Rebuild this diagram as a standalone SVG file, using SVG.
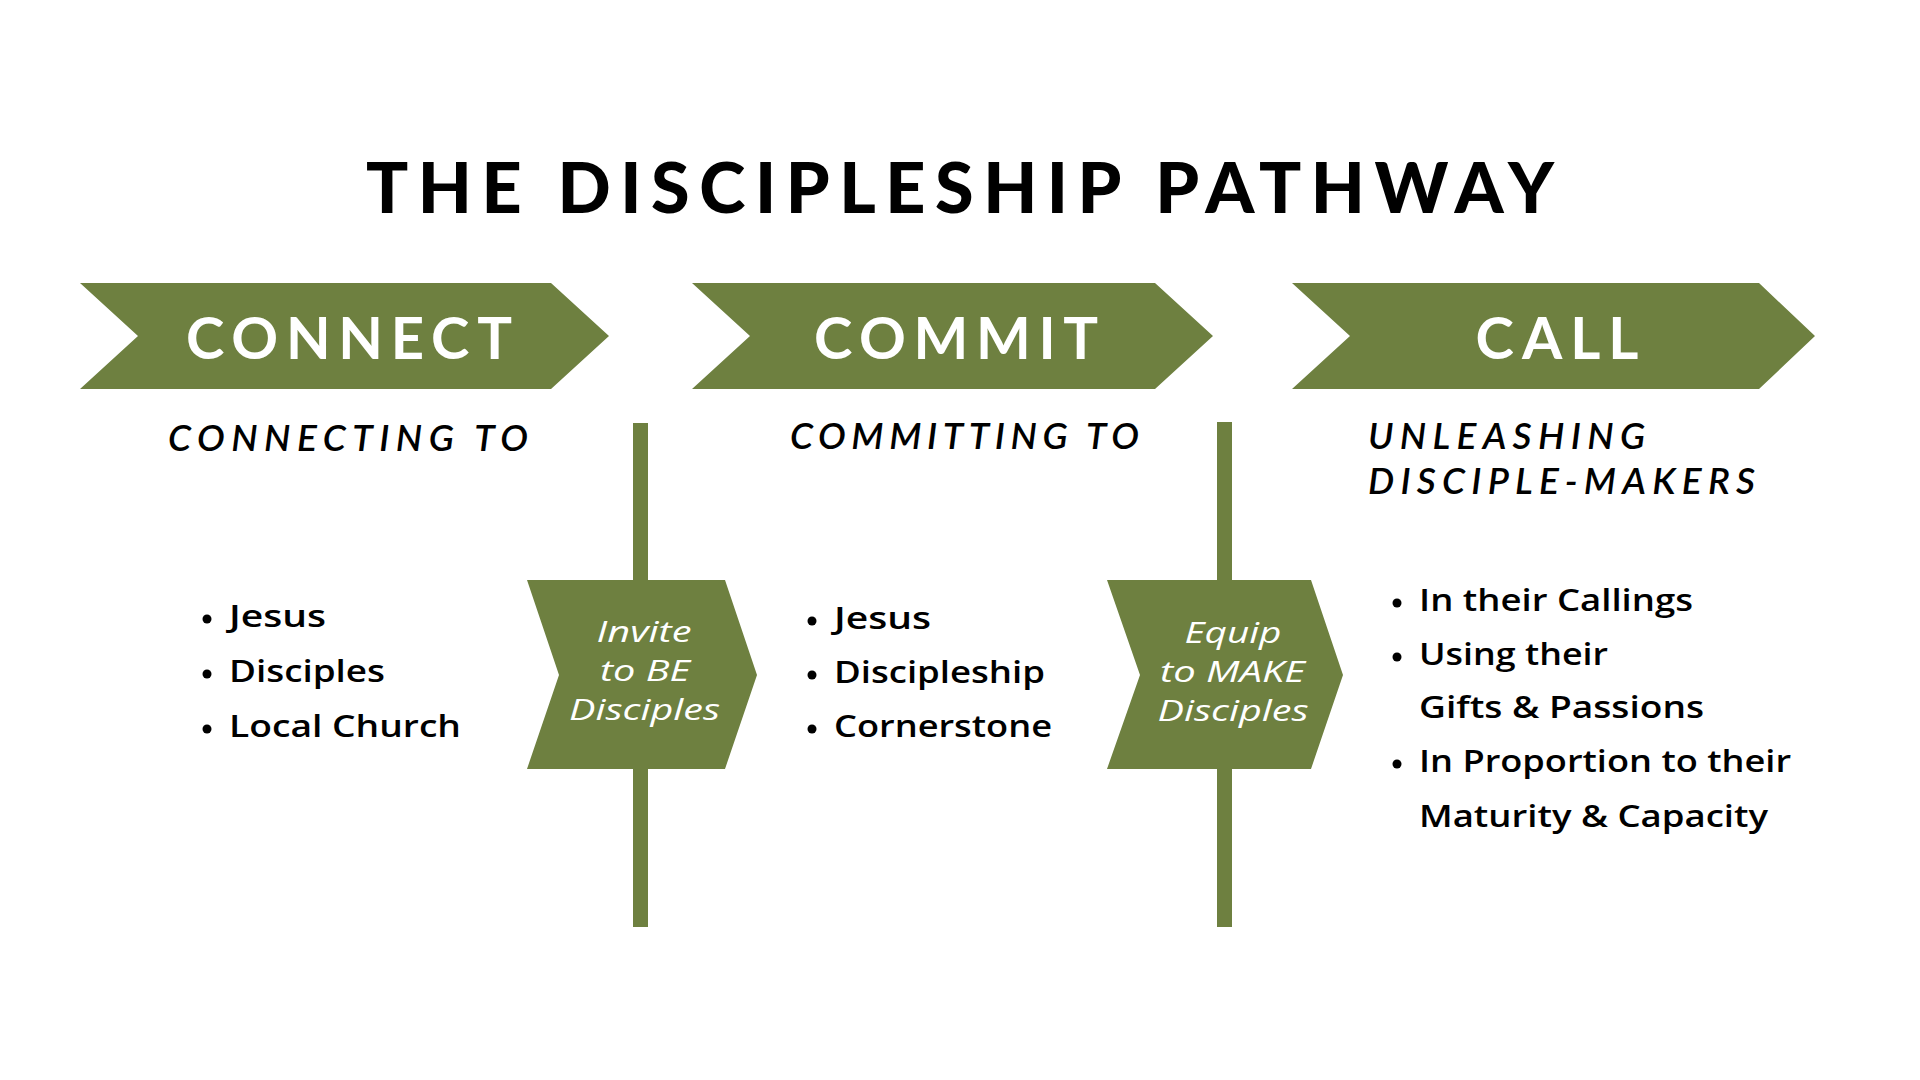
<svg xmlns="http://www.w3.org/2000/svg" width="1920" height="1080" viewBox="0 0 1920 1080">
<style>
.bg{fill:#ffffff}
.g{fill:#6e8040}
.ln{fill:#6e8040}
.title{font-family:Lato,"Liberation Sans",sans-serif;font-weight:900;font-size:70px;fill:#000}
.head{font-family:Lato,"Liberation Sans",sans-serif;font-weight:700;font-size:58px;fill:#fff}
.sub{font-family:Lato,"Liberation Sans",sans-serif;font-weight:600;font-style:italic;font-size:37px;fill:#000}
.inner{font-family:"Open Sans","Liberation Sans",sans-serif;font-weight:400;font-style:italic;font-size:29px;fill:#fff}
.li{font-family:"Open Sans","Liberation Sans",sans-serif;font-weight:600;font-size:31px;fill:#000}
.dot{fill:#000}
</style>
<rect class="bg" x="0" y="0" width="1920" height="1080"/>
<text class="title" x="366" y="213" textLength="1188" lengthAdjust="spacing">THE DISCIPLESHIP PATHWAY</text>

<g id="connectors">
  <rect class="ln" x="633" y="423" width="15" height="504"/>
  <rect class="ln" x="1217" y="422" width="15" height="505"/>
</g>

<g id="connect">
  <polygon class="g" points="80,283 551,283 609,336 551,389 80,389 138,336"/>
  <text class="head" x="349" y="359" text-anchor="middle" textLength="326" lengthAdjust="spacing">CONNECT</text>
</g>
<g id="commit">
  <polygon class="g" points="692,283 1155,283 1213,336 1155,389 692,389 750,336"/>
  <text class="head" x="956" y="359" text-anchor="middle" textLength="284" lengthAdjust="spacing">COMMIT</text>
</g>
<g id="call">
  <polygon class="g" points="1292,283 1759,283 1815,336 1759,389 1292,389 1350,336"/>
  <text class="head" x="1557" y="359" text-anchor="middle" textLength="163" lengthAdjust="spacing">CALL</text>
</g>

<g id="connecting-to">
  <text class="sub" x="168" y="451" textLength="360" lengthAdjust="spacing">CONNECTING TO</text>
  <circle class="dot" cx="207" cy="619" r="4.5"/>
  <circle class="dot" cx="207" cy="674" r="4.5"/>
  <circle class="dot" cx="207" cy="729" r="4.5"/>
  <text class="li" x="229" y="627" textLength="97" lengthAdjust="spacingAndGlyphs">Jesus</text>
  <text class="li" x="229" y="682" textLength="156" lengthAdjust="spacingAndGlyphs">Disciples</text>
  <text class="li" x="229" y="737" textLength="232" lengthAdjust="spacingAndGlyphs">Local Church</text>
</g>

<g id="invite">
  <polygon class="g" points="527,580 725,580 757,675 725,769 527,769 559,675"/>
  <text class="inner" x="644" y="642" text-anchor="middle" textLength="95" lengthAdjust="spacingAndGlyphs">Invite</text>
  <text class="inner" x="645" y="681" text-anchor="middle" textLength="90" lengthAdjust="spacingAndGlyphs">to BE</text>
  <text class="inner" x="644.5" y="720" text-anchor="middle" textLength="151" lengthAdjust="spacingAndGlyphs">Disciples</text>
</g>

<g id="committing-to">
  <text class="sub" x="790" y="449" textLength="349" lengthAdjust="spacing">COMMITTING TO</text>
  <circle class="dot" cx="812" cy="621" r="4.5"/>
  <circle class="dot" cx="812" cy="675" r="4.5"/>
  <circle class="dot" cx="812" cy="729" r="4.5"/>
  <text class="li" x="834" y="629" textLength="97" lengthAdjust="spacingAndGlyphs">Jesus</text>
  <text class="li" x="834" y="683" textLength="211" lengthAdjust="spacingAndGlyphs">Discipleship</text>
  <text class="li" x="834" y="737" textLength="218" lengthAdjust="spacingAndGlyphs">Cornerstone</text>
</g>

<g id="equip">
  <polygon class="g" points="1107,580 1311,580 1343,675 1311,769 1107,769 1140,675"/>
  <text class="inner" x="1233" y="643" text-anchor="middle" textLength="97" lengthAdjust="spacingAndGlyphs">Equip</text>
  <text class="inner" x="1232.5" y="682" text-anchor="middle" textLength="145" lengthAdjust="spacingAndGlyphs">to MAKE</text>
  <text class="inner" x="1233" y="721" text-anchor="middle" textLength="151" lengthAdjust="spacingAndGlyphs">Disciples</text>
</g>

<g id="unleashing">
  <text class="sub" x="1368" y="449" textLength="277" lengthAdjust="spacing">UNLEASHING</text>
  <text class="sub" x="1368" y="494" textLength="387" lengthAdjust="spacing">DISCIPLE-MAKERS</text>
  <circle class="dot" cx="1397" cy="603" r="4.5"/>
  <circle class="dot" cx="1397" cy="657" r="4.5"/>
  <circle class="dot" cx="1397" cy="764" r="4.5"/>
  <text class="li" x="1419" y="611" textLength="274" lengthAdjust="spacingAndGlyphs">In their Callings</text>
  <text class="li" x="1419" y="665" textLength="189" lengthAdjust="spacingAndGlyphs">Using their</text>
  <text class="li" x="1419" y="718" textLength="285" lengthAdjust="spacingAndGlyphs">Gifts &amp; Passions</text>
  <text class="li" x="1419" y="772" textLength="372" lengthAdjust="spacingAndGlyphs">In Proportion to their</text>
  <text class="li" x="1419" y="827" textLength="349" lengthAdjust="spacingAndGlyphs">Maturity &amp; Capacity</text>
</g>
</svg>
